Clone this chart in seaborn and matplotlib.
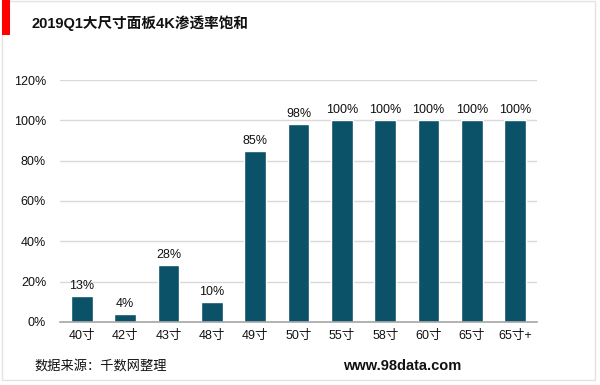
import matplotlib
matplotlib.use('Agg')
import matplotlib.pyplot as plt
import seaborn as sns
import pandas as pd
from matplotlib.patches import Rectangle

sizes = ['40寸', '42寸', '43寸', '48寸', '49寸', '50寸', '55寸', '58寸', '60寸', '65寸', '65寸+']
rates = [13, 4, 28, 10, 85, 98, 100, 100, 100, 100, 100]
yticks = [0, 20, 40, 60, 80, 100, 120]

sns.set_style('white')
plt.rcParams['font.family'] = ['Liberation Sans', 'Noto Sans CJK SC', 'DejaVu Sans']

df = pd.DataFrame({'size': sizes, 'rate': rates})

fig = plt.figure(figsize=(6, 3.85), dpi=100)
ax = fig.add_axes([0.1, 0.164, 0.795, 0.628])

sns.barplot(x='size', y='rate', data=df, color='#0B5168', width=0.5,
            saturation=1, ax=ax, zorder=3)

for i, v in enumerate(rates):
    ax.text(i, v + 2, str(v) + '%', ha='center', va='bottom', fontsize=9,
            color='#111111', zorder=4)

ax.set_ylim(0, 120)
ax.set_yticks(yticks)
ax.set_yticklabels([str(t) + '%' for t in yticks], fontsize=9, color='#111111')
ax.tick_params(axis='x', labelsize=9, colors='#111111', length=0, pad=6)
ax.tick_params(axis='y', length=0, pad=10)
ax.set_xlabel('')
ax.set_ylabel('')
ax.set_xlim(-0.5, len(sizes) - 0.5)
ax.grid(axis='y', color='#D9D9D9', linewidth=1, zorder=0)
for s in ['top', 'right', 'left']:
    ax.spines[s].set_visible(False)
ax.spines['bottom'].set_color('#A6A6A6')
ax.spines['bottom'].set_linewidth(1.2)
ax.spines['bottom'].set_zorder(5)

# frame and red marker
fig.patches.append(Rectangle((0.003, 0.012), 0.989, 0.985, transform=fig.transFigure,
                             fill=False, edgecolor='#E3E3E3', linewidth=1))
fig.patches.append(Rectangle((0.003, 0.91), 0.013, 0.09, transform=fig.transFigure,
                             facecolor='#FF0000', edgecolor='none'))

fig.text(0.053, 0.94, '2019Q1大尺寸面板4K渗透率饱和', fontsize=10.5, fontweight='bold',
         va='center', ha='left', color='#111111')
fig.text(0.058, 0.05, '数据来源：千数网整理', fontsize=9.5, va='center', ha='left',
         color='#111111')
fig.text(0.768, 0.05, 'www.98data.com', fontsize=10.5, fontweight='bold', va='center',
         ha='right', color='#111111')

fig.savefig('out.png', dpi=100)
